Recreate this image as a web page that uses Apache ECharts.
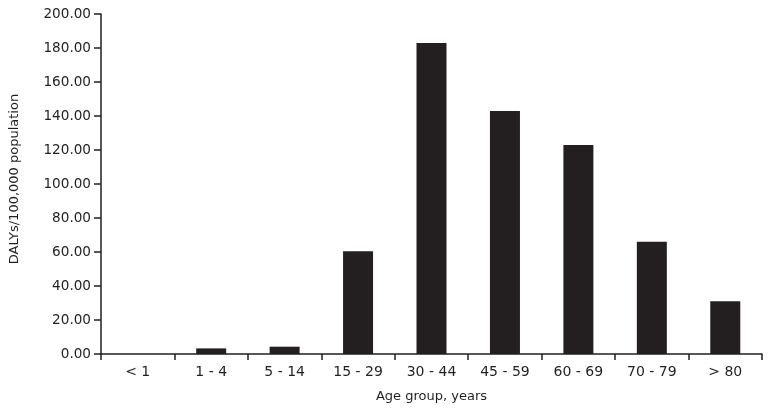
<!DOCTYPE html>
<html>
<head>
<meta charset="utf-8">
<script src="https://cdn.jsdelivr.net/npm/echarts@6/dist/echarts.min.js"></script>
<style>html,body{margin:0;padding:0;background:#fff}#c{width:769px;height:408px}</style>
</head>
<body>
<div id="c"></div>
<script>
const categories = ['< 1', '1 - 4', '5 - 14', '15 - 29', '30 - 44', '45 - 59', '60 - 69', '70 - 79', '> 80'];
const dalys = [0, 3.3, 4.3, 60.5, 183, 143, 123, 66, 31];
const yTicks = [0, 20, 40, 60, 80, 100, 120, 140, 160, 180, 200];

const chart = echarts.init(document.getElementById('c'));
const font = 'DejaVu Sans';
chart.setOption({
  animation: false,
  grid: { left: 101, right: 7, top: 14, bottom: 54 },
  xAxis: {
    type: 'category',
    data: categories,
    name: 'Age group, years',
    nameLocation: 'middle',
    nameGap: 36,
    nameTextStyle: { fontFamily: font, fontSize: 13, color: '#231f20' },
    axisLine: { lineStyle: { color: '#231f20', width: 1.5 } },
    axisTick: { show: true, length: 6, lineStyle: { color: '#231f20', width: 1.5 } },
    axisLabel: { fontFamily: font, fontSize: 14, color: '#231f20', margin: 11 }
  },
  yAxis: {
    type: 'value',
    min: yTicks[0],
    max: yTicks[yTicks.length - 1],
    interval: 20,
    name: 'DALYs/100,000 population',
    nameLocation: 'middle',
    nameGap: 80,
    nameTextStyle: { fontFamily: font, fontSize: 13, color: '#231f20', padding: [0, 0, 0, 10] },
    axisLine: { show: true, lineStyle: { color: '#231f20', width: 1.5 } },
    axisTick: { show: true, length: 7, lineStyle: { color: '#231f20', width: 1.5 } },
    splitLine: { show: false },
    axisLabel: { fontFamily: font, fontSize: 13.6, color: '#231f20', margin: 10,
      formatter: v => v.toFixed(2) }
  },
  series: [{
    type: 'bar',
    data: dalys,
    barWidth: 30,
    itemStyle: { color: '#231f20' }
  }]
});
</script>
</body>
</html>
